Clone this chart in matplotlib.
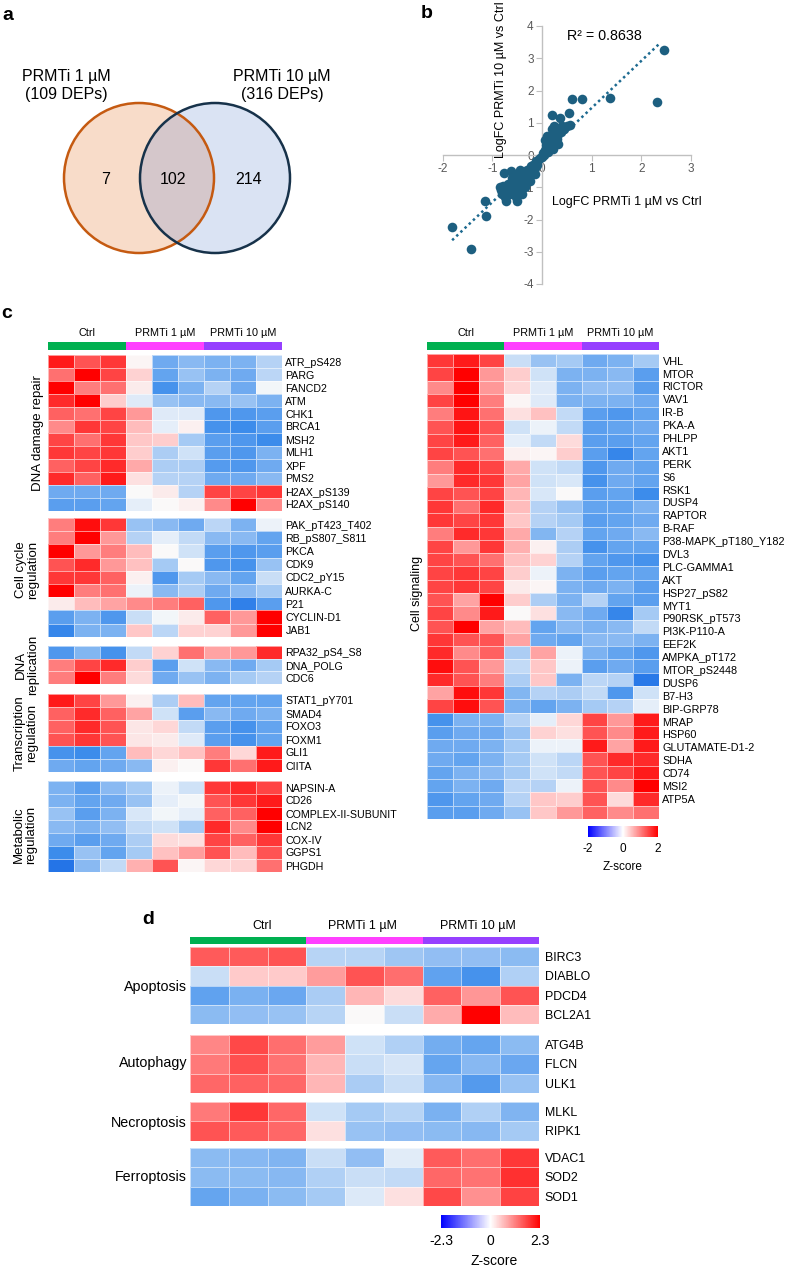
import numpy as np
import matplotlib
matplotlib.use("Agg")
import matplotlib.pyplot as plt
from matplotlib.colors import LinearSegmentedColormap, ListedColormap, Normalize
from matplotlib.patches import Circle
from matplotlib.cm import ScalarMappable

plt.rcParams['font.family'] = ['Liberation Sans', 'DejaVu Sans']
plt.rcParams['axes.unicode_minus'] = False

# ---------------- DATA ----------------
venn_sets = ["PRMTi 1 µM\n(109 DEPs)", "PRMTi 10 µM\n(316 DEPs)"]
venn_counts = [7, 102, 214]   # only 1 µM, shared, only 10 µM

scatter_x = [2.45, 2.32, 1.36, 0.81, 0.60, 0.54, 0.20, 0.36, 0.57, 0.50, 0.45, 0.40,
             -1.81, -1.44, -1.14, -1.12, -0.76, -0.72, -0.50,
             -0.85, -0.82, -0.80, -0.78, -0.75, -0.70, -0.68, -0.65, -0.60, -0.55, -0.52,
             -0.50, -0.48, -0.45, -0.42, -0.40, -0.38, -0.35, -0.32, -0.30, -0.28, -0.25,
             -0.22, -0.20, -0.18, -0.15, -0.12, -0.10, -0.08, -0.05, -0.60, -0.62, -0.45,
             -0.55, -0.40, -0.35, -0.25, -0.15,
             0.02, 0.05, 0.08, 0.10, 0.12, 0.15, 0.15, 0.18, 0.20, 0.20, 0.22, 0.25, 0.25,
             0.28, 0.30, 0.32, 0.35, 0.38, 0.10, 0.05, 0.12, 0.30, 0.22, 0.00, 0.03]
scatter_y = [3.25, 1.65, 1.77, 1.73, 1.73, 1.31, 1.24, 1.16, 0.93, 0.90, 0.80, 0.90,
             -2.22, -2.92, -1.42, -1.88, -0.57, -1.44, -1.44,
             -1.00, -1.10, -1.20, -0.95, -1.30, -1.10, -0.90, -1.20, -1.00, -0.80, -1.30,
             -0.60, -1.10, -0.90, -0.70, -1.00, -0.55, -0.80, -0.60, -0.45, -0.70, -0.50,
             -0.35, -0.55, -0.30, -0.40, -0.20, -0.30, -0.15, -0.10, -0.70, -0.50, -0.45,
             -1.15, -1.20, -1.00, -0.80, -0.60,
             0.05, 0.15, 0.30, 0.20, 0.40, 0.35, 0.55, 0.25, 0.50, 0.80, 0.65, 0.40, 0.90,
             0.60, 0.75, 0.35, 0.85, 0.70, 0.60, 0.45, 0.10, 0.50, 0.20, -0.05, 0.00]
trend_slope = 1.46
trend_intercept = 0.0
trend_x_range = [-1.81, 2.38]
r_squared = 0.8638

groups = ["Ctrl", "PRMTi 1 µM", "PRMTi 10 µM"]
group_colors = ["#00b050", "#ff40ff", "#9640ff"]
sample_group = [0, 0, 0, 1, 1, 1, 2, 2, 2]

# panel c, left heatmap
dna_damage_labels = ["ATR_pS428", "PARG", "FANCD2", "ATM", "CHK1", "BRCA1", "MSH2", "MLH1",
                     "XPF", "PMS2", "H2AX_pS139", "H2AX_pS140"]
dna_damage_z = [
    [1.8, 1.4, 1.6, 0.05, -1.0, -0.8, -0.9, -0.9, -0.5],
    [1.2, 2.0, 1.5, 0.4, -1.1, -0.7, -0.9, -1.0, -0.45],
    [2.0, 1.1, 1.2, 0.15, -1.4, -0.9, -0.5, -1.0, -0.05],
    [1.7, 2.0, 0.45, -0.2, -0.7, -0.8, -0.8, -0.7, -0.9],
    [1.3, 1.2, 1.5, 0.9, -0.2, -0.2, -1.3, -1.3, -1.2],
    [1.0, 1.6, 1.5, 0.6, -0.15, 0.1, -1.4, -1.5, -1.2],
    [1.5, 1.2, 1.6, 0.5, 0.45, -0.6, -1.2, -1.3, -1.5],
    [1.6, 1.5, 1.6, 0.45, -0.55, -0.3, -1.2, -1.3, -0.9],
    [1.3, 1.5, 1.7, 0.75, -0.55, -0.55, -1.25, -1.3, -1.0],
    [1.7, 1.3, 1.8, 0.25, -0.5, -0.5, -1.0, -1.0, -0.8],
    [-1.0, -1.0, -1.0, 0.0, 0.15, -0.5, 1.5, 1.5, 1.6],
    [-1.2, -1.2, -1.1, -0.15, 0.0, 0.1, 1.0, 2.0, 1.0],
]
cell_cycle_labels = ["PAK_pT423_T402", "RB_pS807_S811", "PKCA", "CDK9", "CDC2_pY15",
                     "AURKA-C", "P21", "CYCLIN-D1", "JAB1"]
cell_cycle_z = [
    [1.1, 1.9, 1.6, -0.7, -0.8, -1.0, -0.45, -0.9, -0.1],
    [1.1, 2.0, 0.9, -0.5, -0.15, -0.4, -0.8, -0.8, -1.1],
    [2.0, 0.9, 1.1, 0.6, 0.0, -0.3, -1.2, -1.3, -1.2],
    [1.4, 1.7, 0.9, 0.55, -0.6, 0.0, -1.3, -1.4, -0.7],
    [1.6, 1.6, 1.3, 0.1, -1.3, -0.6, -0.8, -1.1, -0.35],
    [2.0, 1.1, 1.2, -0.1, -0.8, -0.55, -1.0, -0.8, -0.6],
    [0.15, 0.6, 0.8, 1.0, 1.1, 1.3, -1.3, -1.7, -1.2],
    [-1.2, -0.9, -1.3, -0.35, -0.05, 0.15, 1.3, 0.9, 2.0],
    [-1.6, -0.9, -0.9, 0.5, -0.45, 0.4, 0.4, 0.9, 2.0],
]
dna_rep_labels = ["RPA32_pS4_S8", "DNA_POLG", "CDC6"]
dna_rep_z = [
    [-1.3, -0.85, -1.4, -0.4, 0.4, 1.2, 0.8, 0.9, 1.7],
    [1.1, 1.5, 1.7, 0.45, -1.2, -0.3, -0.8, -1.0, -0.6],
    [1.1, 2.0, 1.1, 0.3, -1.0, -0.7, -0.9, -0.6, -0.5],
]
transcription_labels = ["STAT1_pY701", "SMAD4", "FOXO3", "FOXM1", "GLI1", "CIITA"]
transcription_z = [
    [1.8, 1.5, 0.9, 0.1, -0.55, 0.6, -1.1, -1.1, -1.1],
    [1.3, 1.7, 1.3, 0.8, -0.3, -1.2, -0.8, -1.0, -0.9],
    [1.3, 1.7, 1.4, 0.2, 0.35, -0.4, -1.2, -1.4, -1.1],
    [1.4, 1.6, 1.4, 0.2, 0.15, -0.2, -1.2, -1.4, -1.1],
    [-1.4, -1.5, -1.1, 0.6, 0.35, 0.55, 1.1, 0.35, 1.8],
    [-1.0, -1.1, -1.0, -0.8, 0.1, 0.0, 1.6, 1.2, 1.8],
]
metabolic_labels = ["NAPSIN-A", "CD26", "COMPLEX-II-SUBUNIT", "LCN2", "COX-IV", "GGPS1", "PHGDH"]
metabolic_z = [
    [-0.9, -1.2, -0.8, -0.6, -0.1, -0.3, 1.6, 1.7, 1.5],
    [-0.9, -1.1, -1.0, -0.7, -0.15, -0.05, 1.4, 1.6, 1.8],
    [-0.7, -1.2, -0.9, -0.25, -0.05, -0.15, 1.3, 1.3, 2.0],
    [-0.8, -0.9, -0.75, -0.4, -0.3, -0.6, 1.7, 1.0, 2.0],
    [-1.0, -1.2, -1.0, -0.55, 0.3, 0.25, 1.5, 1.3, 1.6],
    [-1.5, -0.7, -1.1, -0.6, 0.55, 0.85, 1.4, 0.6, 1.4],
    [-1.9, -0.8, -0.4, 0.7, 1.4, 0.05, 0.35, 0.4, 1.2],
]
left_blocks = ["DNA damage repair", "Cell cycle\nregulation", "DNA\nreplication",
               "Transcription\nregulation", "Metabolic\nregulation"]

# panel c, right heatmap (cell signaling)
signaling_labels = ["VHL", "MTOR", "RICTOR", "VAV1", "IR-B", "PKA-A", "PHLPP", "AKT1", "PERK",
                    "S6", "RSK1", "DUSP4", "RAPTOR", "B-RAF", "P38-MAPK_pT180_Y182", "DVL3",
                    "PLC-GAMMA1", "AKT", "HSP27_pS82", "MYT1", "P90RSK_pT573", "PI3K-P110-A",
                    "EEF2K", "AMPKA_pT172", "MTOR_pS2448", "DUSP6", "B7-H3", "BIP-GRP78",
                    "MRAP", "HSP60", "GLUTAMATE-D1-2", "SDHA", "CD74", "MSI2", "ATP5A"]
signaling_z = [
    [1.6, 1.8, 1.5, -0.35, -0.7, -0.6, -1.0, -0.9, -0.6],
    [1.5, 2.0, 0.9, 0.45, -0.3, -0.9, -0.9, -0.8, -1.2],
    [1.0, 2.0, 0.9, 0.35, -0.2, -0.9, -0.75, -0.75, -1.2],
    [1.5, 2.0, 1.1, 0.05, -0.2, -0.9, -0.9, -0.9, -1.0],
    [1.1, 1.85, 1.2, 0.25, 0.55, -0.4, -1.2, -1.3, -1.1],
    [1.4, 1.85, 1.4, -0.3, -0.1, -0.4, -1.2, -1.1, -1.0],
    [1.5, 1.8, 1.3, -0.15, -0.4, 0.3, -1.2, -1.2, -1.1],
    [1.5, 1.4, 1.2, 0.1, 0.05, 0.45, -1.2, -1.6, -1.1],
    [1.1, 1.7, 1.5, 0.75, -0.3, -0.4, -1.3, -1.0, -1.1],
    [0.9, 1.7, 1.6, 0.8, -0.3, -0.25, -1.4, -1.0, -1.1],
    [1.5, 1.4, 1.5, 0.65, -0.25, 0.0, -1.2, -1.1, -1.5],
    [1.6, 1.2, 1.7, 0.6, -0.5, -0.7, -1.1, -1.1, -0.9],
    [1.6, 1.5, 1.6, 0.5, -0.5, -0.6, -1.2, -1.1, -1.0],
    [1.1, 1.7, 1.6, 0.75, -0.85, -0.5, -1.1, -1.0, -0.8],
    [1.5, 0.9, 1.6, 0.7, 0.1, -0.55, -1.4, -1.1, -1.1],
    [1.5, 1.4, 1.2, 0.55, 0.4, -0.5, -1.1, -1.3, -1.4],
    [1.5, 1.6, 1.5, 0.45, -0.1, -0.9, -1.2, -1.1, -1.1],
    [1.5, 1.6, 1.5, 0.15, 0.05, -0.9, -1.0, -0.9, -1.2],
    [1.4, 0.8, 2.0, 0.45, -0.55, -0.9, -0.5, -1.1, -1.2],
    [1.5, 1.0, 1.8, 0.0, 0.25, -0.8, -1.0, -1.6, -0.6],
    [1.4, 2.0, 0.8, 0.6, -1.1, -0.8, -0.9, -0.8, -0.4],
    [1.6, 1.4, 1.4, 0.8, -1.0, -1.1, -0.8, -0.8, -0.9],
    [1.7, 1.0, 1.3, -0.55, 0.8, -0.1, -0.9, -1.1, -1.3],
    [1.9, 1.4, 0.9, -0.4, 0.5, -0.1, -1.2, -1.0, -1.2],
    [1.7, 1.4, 1.1, -0.55, 0.5, -0.9, -0.45, -0.5, -1.8],
    [0.8, 1.9, 1.6, -0.85, -0.5, -0.55, -0.4, -1.3, -0.3],
    [1.5, 1.9, 1.4, -0.9, -1.1, -0.9, -0.6, -0.5, -0.15],
    [-1.4, -0.9, -0.9, -0.5, -0.15, 0.35, 1.5, 0.9, 1.8],
    [-1.2, -1.0, -1.0, -0.7, 0.4, 0.25, 1.4, 1.0, 1.8],
    [-1.0, -1.0, -0.9, -0.6, -0.1, -0.1, 1.8, 0.8, 1.8],
    [-1.0, -1.1, -0.9, -0.6, -0.3, -0.45, 1.4, 1.7, 1.7],
    [-1.1, -0.9, -0.8, -0.6, -0.3, -0.4, 1.4, 1.5, 1.8],
    [-1.1, -0.9, -1.0, -0.45, -0.5, -0.1, 1.4, 1.0, 2.0],
    [-1.3, -1.1, -1.0, -0.5, 0.5, 0.45, 1.4, 0.3, 1.7],
    [-1.2, -1.2, -1.0, -0.7, 0.5, 0.9, 1.3, 1.0, 1.2],
]

# panel d
death_blocks = ["Apoptosis", "Autophagy", "Necroptosis", "Ferroptosis"]
apoptosis_labels = ["BIRC3", "DIABLO", "PDCD4", "BCL2A1"]
apoptosis_z = [
    [1.55, 1.55, 1.6, -0.55, -0.55, -0.75, -0.85, -0.85, -0.9],
    [-0.4, 0.55, 0.55, 1.0, 1.6, 1.4, -1.3, -1.6, -0.6],
    [-1.3, -1.05, -1.2, -0.65, 0.75, 0.35, 1.5, 1.05, 1.6],
    [-0.9, -0.85, -0.8, -0.55, 0.0, -0.4, 0.85, 2.3, 0.7],
]
autophagy_labels = ["ATG4B", "FLCN", "ULK1"]
autophagy_z = [
    [1.2, 1.7, 1.4, 1.0, -0.35, -0.6, -1.1, -1.25, -0.9],
    [1.3, 1.65, 1.35, 0.75, -0.4, -0.3, -1.25, -0.95, -1.2],
    [1.45, 1.5, 1.45, 0.75, -0.65, -0.4, -0.95, -1.45, -0.8],
]
necroptosis_labels = ["MLKL", "RIPK1"]
necroptosis_z = [
    [1.3, 1.85, 1.45, -0.35, -0.7, -0.55, -1.05, -0.6, -1.0],
    [1.6, 1.55, 1.45, 0.3, -0.8, -0.85, -0.9, -0.95, -0.7],
]
ferroptosis_labels = ["VDAC1", "SOD2", "SOD1"]
ferroptosis_z = [
    [-0.9, -0.95, -1.0, -0.4, -0.85, -0.2, 1.55, 1.4, 1.85],
    [-0.9, -0.9, -0.95, -0.6, -0.4, -0.45, 1.45, 1.35, 1.9],
    [-1.25, -1.05, -0.9, -0.7, -0.25, 0.3, 1.7, 1.1, 1.75],
]

# ---------------- FIGURE ----------------
W, H = 785, 1269
fig = plt.figure(figsize=(W / 100, H / 100), dpi=100)


def px_axes(x0, y0, x1, y1):
    return fig.add_axes([x0 / W, 1 - y1 / H, (x1 - x0) / W, (y1 - y0) / H])


def ftext(x, y, s, **kw):
    return fig.text(x / W, 1 - y / H, s, **kw)


cell_cmap = LinearSegmentedColormap.from_list("cell", [
    (0.0, (30 / 255, 110 / 255, 230 / 255)),
    (0.125, (60 / 255, 140 / 255, 235 / 255)),
    (0.25, (110 / 255, 170 / 255, 240 / 255)),
    (0.375, (180 / 255, 210 / 255, 245 / 255)),
    (0.5, (250 / 255, 250 / 255, 250 / 255)),
    (0.625, (255 / 255, 200 / 255, 200 / 255)),
    (0.75, (255 / 255, 140 / 255, 140 / 255)),
    (0.875, (255 / 255, 70 / 255, 70 / 255)),
    (1.0, (1.0, 0.0, 0.0)),
])
bar_cmap = plt.get_cmap("bwr")
band_cmap = ListedColormap(group_colors)

# panel letters
for letter, (lx, ly) in zip("abcd", [(8, 15), (427, 14), (7, 314), (148, 920)]):
    ftext(lx, ly, letter, fontsize=14, fontweight="bold", ha="center", va="center")

# ---------- a: Venn ----------
axv = px_axes(0, 0, 330, 290)
axv.set_xlim(0, 330)
axv.set_ylim(290, 0)
axv.axis("off")
c_left = Circle((139, 178), 75, facecolor="#f8dcc9", edgecolor="none")
c_right = Circle((215, 178), 75, facecolor="#dae3f3", edgecolor="none")
axv.add_patch(c_left)
axv.add_patch(c_right)
c_over = Circle((215, 178), 75, facecolor="#d5c7cb", edgecolor="none")
axv.add_patch(c_over)
c_over.set_clip_path(c_left)
axv.add_patch(Circle((139, 178), 75, facecolor="none", edgecolor="#c55a11", lw=1.8))
axv.add_patch(Circle((215, 178), 75, facecolor="none", edgecolor="#17324a", lw=1.8))
axv.text(66, 86, venn_sets[0], ha="center", va="center", fontsize=11.5, linespacing=1.25)
axv.text(282, 86, venn_sets[1], ha="center", va="center", fontsize=11.5, linespacing=1.25)
for cx, n in zip([106, 173, 249], venn_counts):
    axv.text(cx, 180, str(n), ha="center", va="center", fontsize=11.5)

# ---------- b: scatter ----------
axb = px_axes(442.7, 26, 691, 284)
axb.set_xlim(-2, 3)
axb.set_ylim(-4, 4)
for side in ["top", "right"]:
    axb.spines[side].set_visible(False)
for side in ["left", "bottom"]:
    axb.spines[side].set_position(("data", 0))
    axb.spines[side].set_color("#c0c0c0")
    axb.spines[side].set_linewidth(1.0)
axb.set_xticks(range(-2, 4))
axb.set_yticks(range(-4, 5))
axb.tick_params(direction="out", length=4, color="#c0c0c0", labelsize=8.5,
                labelcolor="#595959", pad=2)
axb.patch.set_alpha(0)
tx = np.array(trend_x_range)
axb.plot(tx, trend_slope * tx + trend_intercept, color="#1d6a90", lw=1.8,
         linestyle=(0, (1, 1.3)), zorder=2)
axb.scatter(scatter_x, scatter_y, s=48, color="#1d5f80", zorder=3, clip_on=False, lw=0)
ftext(604, 36, f"R² = {r_squared:.4f}", fontsize=10.3, ha="center", va="center")
ftext(501, 80, "LogFC PRMTi 10 µM vs Ctrl", fontsize=9, rotation=90, ha="center", va="center")
ftext(627, 202, "LogFC PRMTi 1 µM vs Ctrl", fontsize=9, ha="center", va="center")


# ---------- heatmap helpers ----------
def band(x0, x1, y0, y1, text_y, fs, text_x=None):
    ax = px_axes(x0, y0, x1, y1)
    ax.pcolormesh(np.array([sample_group]), cmap=band_cmap, vmin=-0.5, vmax=2.5)
    ax.set_xlim(0, 9)
    ax.axis("off")
    for g, name in enumerate(groups):
        xc = x0 + (x1 - x0) * (3 * g + 1.5) / 9 if text_x is None else text_x[g]
        ftext(xc, text_y, name, fontsize=fs, ha="center", va="center")


def block(x0, x1, y0, row_h, values, labels, norm, fs, tick_pos=None, pad=2.5):
    n = len(values)
    ax = px_axes(x0, y0, x1, y0 + n * row_h)
    ax.pcolormesh(np.array(values), cmap=cell_cmap, norm=norm,
                  edgecolors=(1, 1, 1, 0.55), linewidth=0.6)
    ax.set_xlim(0, 9)
    ax.set_ylim(n, 0)
    ax.set_xticks([])
    ax.yaxis.tick_right()
    ax.set_yticks(np.arange(n) + 0.5 if tick_pos is None else tick_pos)
    ax.set_yticklabels(labels, fontsize=fs)
    ax.tick_params(axis="y", length=0, pad=pad)
    for s in ax.spines.values():
        s.set_visible(False)
    return ax


norm_c = Normalize(-2, 2)

# ---------- c left ----------
LX0, LX1 = 48, 282
band(LX0, LX1, 342, 350, 333, 7.8)
left_data = [(355, dna_damage_z, dna_damage_labels), (518, cell_cycle_z, cell_cycle_labels),
             (646, dna_rep_z, dna_rep_labels), (694, transcription_z, transcription_labels),
             (781, metabolic_z, metabolic_labels)]
row_h_c = [13.0, 13.2, 12.7, 13.0, 13.0]
for (top, vals, labs), rh in zip(left_data, row_h_c):
    block(LX0, LX1, top, rh, vals, labs, norm_c, 7.7)
left_label_pos = [(38, 433), (27, 570), (27, 665), (26, 733), (25, 835)]
for name, (gx, gy) in zip(left_blocks, left_label_pos):
    ftext(gx, gy, name, fontsize=9.5, rotation=90, ha="center", va="center", linespacing=1.0)

# ---------- c right ----------
RX0, RX1 = 427, 659
band(RX0, RX1, 342, 350, 333, 7.8)
n_sig = len(signaling_z)
block(RX0, RX1, 354, 13.28, signaling_z, signaling_labels, norm_c, 7.8,
      tick_pos=np.linspace(0.5, n_sig - 1.5, len(signaling_labels)))
ftext(417, 593, "Cell signaling", fontsize=9, rotation=90, ha="center", va="center")

cax_c = px_axes(588, 826, 658, 837)
cb_c = fig.colorbar(ScalarMappable(norm=norm_c, cmap=bar_cmap), cax=cax_c,
                    orientation="horizontal", ticks=[-2, 0, 2])
cb_c.outline.set_visible(False)
cax_c.tick_params(length=0, labelsize=8.5, pad=4)
ftext(623, 867, "Z-score", fontsize=8.5, ha="center", va="center")

# ---------- d ----------
DX0, DX1 = 190, 539
band(DX0, DX1, 937, 944, 926, 8.9, text_x=[262, 362, 478])
norm_d = Normalize(-2.3, 2.3)
d_data = [(947, apoptosis_z, apoptosis_labels), (1035, autophagy_z, autophagy_labels),
          (1102, necroptosis_z, necroptosis_labels), (1148, ferroptosis_z, ferroptosis_labels)]
for top, vals, labs in d_data:
    block(DX0, DX1, top, 19.3, vals, labs, norm_d, 8.9, pad=4)
for name, gy in zip(death_blocks, [987, 1063, 1123, 1177]):
    ftext(187, gy, name, fontsize=10.3, ha="right", va="center")

cax_d = px_axes(441, 1215, 540, 1228)
cb_d = fig.colorbar(ScalarMappable(norm=norm_d, cmap=bar_cmap), cax=cax_d,
                    orientation="horizontal", ticks=[-2.3, 0, 2.3])
cb_d.ax.set_xticklabels(["-2.3", "0", "2.3"])
cb_d.outline.set_visible(False)
cax_d.tick_params(length=0, labelsize=10, pad=4)
ftext(494, 1261, "Z-score", fontsize=10, ha="center", va="center")

fig.savefig("out.png", dpi=100, facecolor="white")
